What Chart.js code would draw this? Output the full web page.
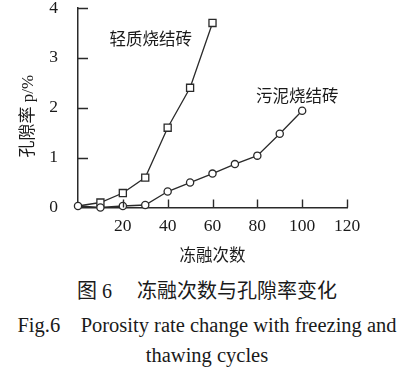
<!DOCTYPE html>
<html>
<head>
<meta charset="utf-8">
<script src="https://cdn.jsdelivr.net/npm/chart.js@4.4.1/dist/chart.umd.min.js"></script>
<style>
  html, body { margin: 0; padding: 0; background: #ffffff; }
  #wrap { position: relative; width: 414px; height: 377px; overflow: hidden; }
  #c { position: absolute; left: 0; top: 0; }
  .cap { position: absolute; left: 0; width: 414px; text-align: center; color: #1a1a1a;
         font-family: 'Liberation Serif', 'Noto Sans CJK SC', serif; line-height: 24px; white-space: pre; }
</style>
</head>
<body>
<div id="wrap">
  <canvas id="c" width="414" height="270"></canvas>
  <div class="cap" style="top:279px;font-size:20px;">图 6　 冻融次数与孔隙率变化</div>
  <div class="cap" style="top:313px;font-size:20.5px;">Fig.6    Porosity rate change with freezing and</div>
  <div class="cap" style="top:343px;font-size:20.5px;">thawing cycles</div>
</div>
<script>
// ---- data ----
const cyclesLight = [0, 10, 20, 30, 40, 50, 60];
const porosityLight = [0.03, 0.1, 0.29, 0.6, 1.6, 2.4, 3.7];
const cyclesSludge = [0, 10, 20, 30, 40, 50, 60, 70, 80, 90, 100];
const porositySludge = [0.03, 0.0, 0.03, 0.05, 0.32, 0.5, 0.68, 0.87, 1.04, 1.48, 1.94];
const seriesNames = ['轻质烧结砖', '污泥烧结砖'];
const labelPosLight = [32.4, 3.35];
const labelPosSludge = [97.8, 2.2];
const xTicks = [0, 20, 40, 60, 80, 100, 120];
const yTicks = [0, 1, 2, 3, 4];
const xTitle = '冻融次数';
const yTitle = '孔隙率 p/%    ';

const FONT = "'Liberation Serif', 'Noto Sans CJK SC', serif";
const INK = '#2a2a2a';

const innerTicks = {
  id: 'innerTicks',
  afterDraw(chart) {
    const {ctx, scales: {x, y}} = chart;
    ctx.save();
    ctx.strokeStyle = INK;
    ctx.lineWidth = 1.4;
    ctx.beginPath();
    xTicks.forEach(v => {
      if (v === 0) return;
      const px = Math.round(x.getPixelForValue(v)) + 0.5;
      ctx.moveTo(px, y.bottom);
      ctx.lineTo(px, y.bottom - 8);
    });
    yTicks.forEach(v => {
      if (v === 0) return;
      const py = Math.round(y.getPixelForValue(v)) + 0.5;
      ctx.moveTo(x.left, py);
      ctx.lineTo(x.left + 10, py);
    });
    ctx.stroke();
    ctx.fillStyle = '#1a1a1a';
    ctx.font = "16.5px " + FONT;
    ctx.textAlign = 'center';
    ctx.textBaseline = 'middle';
    ctx.fillText(seriesNames[0], x.getPixelForValue(labelPosLight[0]), y.getPixelForValue(labelPosLight[1]));
    ctx.fillText(seriesNames[1], x.getPixelForValue(labelPosSludge[0]), y.getPixelForValue(labelPosSludge[1]));
    ctx.restore();
  }
};

new Chart(document.getElementById('c'), {
  type: 'line',
  data: {
    datasets: [
      {
        label: seriesNames[0],
        data: cyclesLight.map((c, i) => ({x: c, y: porosityLight[i]})),
        borderColor: INK,
        borderWidth: 1.3,
        pointStyle: 'rect',
        pointRadius: cyclesLight.map((c, i) => i === 0 ? 0 : 5),
        pointBackgroundColor: '#ffffff',
        pointBorderColor: INK,
        pointBorderWidth: 1.3,
        tension: 0,
        order: 2
      },
      {
        label: seriesNames[1],
        data: cyclesSludge.map((c, i) => ({x: c, y: porositySludge[i]})),
        borderColor: INK,
        borderWidth: 1.3,
        pointStyle: 'circle',
        pointRadius: 3.6,
        pointBackgroundColor: '#ffffff',
        pointBorderColor: INK,
        pointBorderWidth: 1.3,
        tension: 0,
        order: 1
      }
    ]
  },
  options: {
    responsive: false,
    animation: false,
    clip: false,
    layout: { padding: { left: 0, right: 67, top: 8, bottom: 0 } },
    plugins: { legend: { display: false }, tooltip: { enabled: false } },
    scales: {
      x: {
        type: 'linear',
        min: 0, max: 120,
        afterBuildTicks: s => { s.ticks = xTicks.map(v => ({value: v})); },
        grid: { display: false, drawTicks: false },
        border: { display: true, color: INK, width: 1.5 },
        ticks: {
          padding: 10,
          color: '#1a1a1a',
          font: { family: FONT, size: 17.5, lineHeight: 1 },
          callback: v => v === 0 ? '' : String(v),
          maxRotation: 0, autoSkip: false
        },
        title: {
          display: true, text: xTitle, color: '#1a1a1a',
          font: { family: FONT, size: 16.5, lineHeight: 1.2 },
          padding: { top: 4, bottom: 3 }
        },
        afterFit: s => { s.height = 62.5; s.paddingLeft = 0; s.paddingRight = 0; }
      },
      y: {
        type: 'linear',
        min: 0, max: 4,
        afterBuildTicks: s => { s.ticks = yTicks.map(v => ({value: v})); },
        grid: { display: false, drawTicks: false },
        border: { display: true, color: INK, width: 1.5 },
        ticks: {
          padding: 20,
          color: '#1a1a1a',
          font: { family: FONT, size: 17.5, lineHeight: 1 },
          callback: v => String(v)
        },
        title: {
          display: true, text: yTitle, color: '#1a1a1a',
          font: { family: FONT, size: 17, lineHeight: 1.2 },
          padding: { top: 18, bottom: 0 }
        },
        afterFit: s => { s.width = 78; s.paddingTop = 0; s.paddingBottom = 0; }
      }
    }
  },
  plugins: [innerTicks]
});
</script>
</body>
</html>
